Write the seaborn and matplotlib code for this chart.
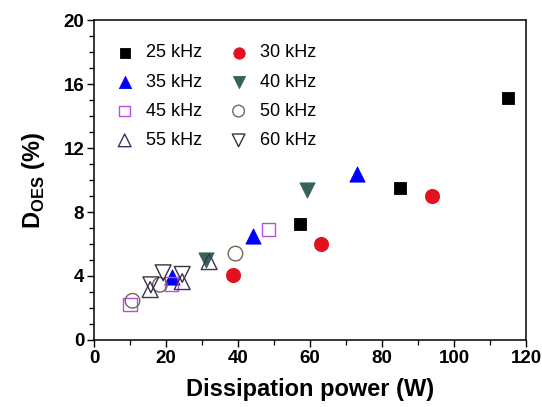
import matplotlib
matplotlib.use("Agg")
import matplotlib.pyplot as plt
import seaborn as sns
import pandas as pd
from matplotlib.ticker import MultipleLocator

# ---- data ----
labels = ["25 kHz", "30 kHz", "35 kHz", "40 kHz", "45 kHz", "50 kHz", "55 kHz", "60 kHz"]
x_25 = [57.2, 85.0, 115.0]
y_25 = [7.25, 9.5, 15.1]
x_30 = [38.7, 63.0, 93.9]
y_30 = [4.05, 6.0, 9.0]
x_35 = [21.6, 44.1, 73.0]
y_35 = [3.95, 6.5, 10.4]
x_40 = [31.0, 59.3]
y_40 = [5.0, 9.4]
x_45 = [10.0, 21.6, 48.4]
y_45 = [2.2, 3.5, 6.9]
x_50 = [10.7, 18.3, 39.3]
y_50 = [2.45, 3.45, 5.4]
x_55 = [15.6, 24.5, 32.0]
y_55 = [3.15, 3.65, 4.9]
x_60 = [15.8, 19.2, 24.5]
y_60 = [3.45, 4.2, 4.1]

xs = [x_25, x_30, x_35, x_40, x_45, x_50, x_55, x_60]
ys = [y_25, y_30, y_35, y_40, y_45, y_50, y_55, y_60]

colors = ["#000000", "#e3111f", "#0000ff", "#36625a", "#b84fe0", "#6e6a55", "#353560", "#3d3040"]
markers = ["s", "o", "^", "v", "s", "o", "^", "v"]
filled = [True, True, True, True, False, False, False, False]
sizes = [85, 105, 120, 120, 90, 110, 130, 130]

sns.set_style("white")
plt.rcParams["font.family"] = ["Liberation Sans", "DejaVu Sans"]
plt.rcParams["mathtext.fontset"] = "custom"
plt.rcParams["mathtext.rm"] = "Liberation Sans"
plt.rcParams["mathtext.bf"] = "Liberation Sans:bold"
plt.rcParams["text.color"] = "black"
plt.rcParams["axes.labelcolor"] = "black"
plt.rcParams["xtick.color"] = "black"
plt.rcParams["ytick.color"] = "black"

fig = plt.figure(figsize=(5.42, 4.07), dpi=100)
ax = fig.add_axes([94 / 542, 1 - 340 / 407, 432 / 542, 320 / 407])

for lab, xv, yv, c, m, f, s in zip(labels, xs, ys, colors, markers, filled, sizes):
    df = pd.DataFrame({"x": xv, "y": yv})
    if f:
        sns.scatterplot(data=df, x="x", y="y", ax=ax, marker=m, s=s,
                        color=c, edgecolor=c, linewidth=0.6, label=lab, legend=False)
    else:
        sns.scatterplot(data=df, x="x", y="y", ax=ax, marker=m, s=s,
                        color=c, facecolor="none", edgecolor=c, linewidth=1.0,
                        label=lab, legend=False)

ax.set_xlim(0, 120)
ax.set_ylim(0, 20)
ax.xaxis.set_major_locator(MultipleLocator(20))
ax.xaxis.set_minor_locator(MultipleLocator(10))
ax.yaxis.set_major_locator(MultipleLocator(4))
ax.yaxis.set_minor_locator(MultipleLocator(1))
ax.tick_params(which="both", direction="out", bottom=True, left=True, top=False, right=False,
               color="black", width=1.0, labelcolor="black")
ax.tick_params(which="major", length=5, labelsize=13.5, pad=2)
ax.tick_params(which="minor", length=3.5, width=0.9)
for lbl in ax.get_xticklabels() + ax.get_yticklabels():
    lbl.set_fontweight("bold")

for sp in ax.spines.values():
    sp.set_color("black")
    sp.set_linewidth(1.1)

ax.set_xlabel("Dissipation power (W)", fontsize=17, fontweight="bold", labelpad=8, color="black")
ax.set_ylabel(r"$\mathbf{D}_{\mathbf{OES}}$ (%)", fontsize=17, fontweight="bold", labelpad=12, color="black")

h, l = ax.get_legend_handles_labels()
order = [0, 2, 4, 6, 1, 3, 5, 7]
leg = ax.legend([h[i] for i in order], [l[i] for i in order], ncol=2, loc="upper left",
                frameon=False, fontsize=13, bbox_to_anchor=(0.0, 0.975), markerscale=0.8,
                handletextpad=0.4, columnspacing=1.2, labelspacing=0.68, handlelength=1.6)
for t in leg.get_texts():
    t.set_color("black")

fig.savefig("out.png", dpi=100)
